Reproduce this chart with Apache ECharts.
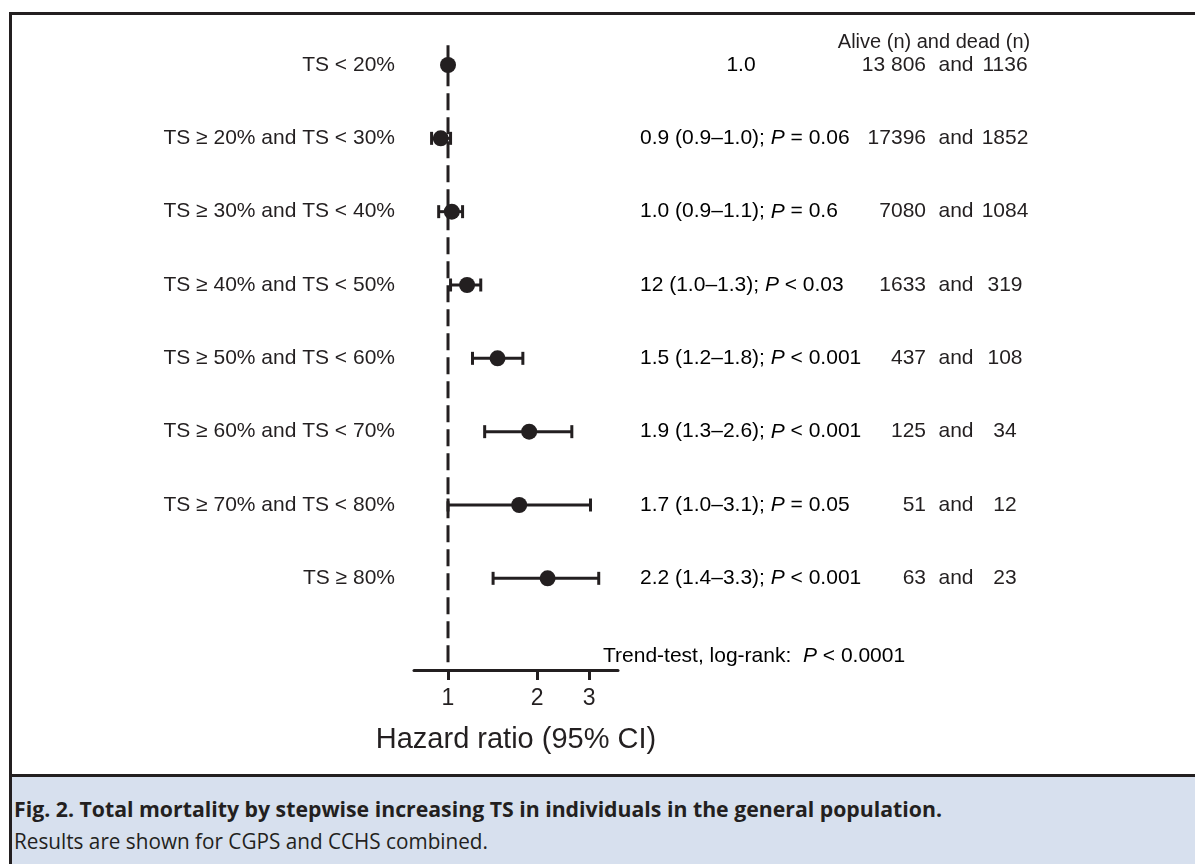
<!DOCTYPE html>
<html>
<head>
<meta charset="utf-8">
<script src="https://cdn.jsdelivr.net/npm/echarts@6/dist/echarts.min.js"></script>
<style>
  html, body { margin: 0; padding: 0; background: #ffffff; }
  #page { position: relative; width: 1195px; height: 864px; overflow: hidden; background: #fff; }
  #frameTop { position: absolute; left: 9px; top: 12px; width: 1186px; height: 3px; background: #231f20; }
  #frameLeft { position: absolute; left: 9px; top: 12px; width: 3px; height: 852px; background: #231f20; }
  #caption { position: absolute; left: 12px; top: 774px; width: 1183px; height: 90px;
             background: #d7e0ee; border-top: 3px solid #231f20; }
  .capline { position: absolute; left: 2px; white-space: nowrap; color: #231f20;
             font-family: "Liberation Sans Narrow", "Open Sans", "Liberation Sans", sans-serif;
             font-size: 22px; line-height: 26px; transform-origin: 0 50%; }
  #cap1 { top: 18px; font-weight: bold; }
  #cap2 { top: 50px; font-weight: normal; }
  #chart { position: absolute; left: 0; top: 0; width: 1195px; height: 864px; }
</style>
</head>
<body>
<div id="page">
  <div id="frameTop"></div>
  <div id="frameLeft"></div>
  <div id="caption">
    <div class="capline" id="cap1"></div>
    <div class="capline" id="cap2"></div>
  </div>
  <div id="chart"></div>
</div>
<script>
// ---------------- data ----------------
const rowLabels = ['TS < 20%', 'TS ≥ 20% and TS < 30%', 'TS ≥ 30% and TS < 40%', 'TS ≥ 40% and TS < 50%',
                   'TS ≥ 50% and TS < 60%', 'TS ≥ 60% and TS < 70%', 'TS ≥ 70% and TS < 80%', 'TS ≥ 80%'];
const hazardRatio = [1.0, 0.945, 1.03, 1.16, 1.47, 1.88, 1.74, 2.17];
const ciLow  = [null, 0.88, 0.93, 1.02, 1.21, 1.33, 1.0, 1.42];
const ciHigh = [null, 1.02, 1.12, 1.29, 1.79, 2.62, 3.03, 3.23];
const estText = ['1.0', '0.9 (0.9–1.0); ', '1.0 (0.9–1.1); ', '12 (1.0–1.3); ', '1.5 (1.2–1.8); ',
                 '1.9 (1.3–2.6); ', '1.7 (1.0–3.1); ', '2.2 (1.4–3.3); '];
const pText = ['', ' = 0.06', ' = 0.6', ' < 0.03', ' < 0.001', ' < 0.001', ' = 0.05', ' < 0.001'];
const aliveN = ['13 806', '17396', '7080', '1633', '437', '125', '51', '63'];
const deadN  = ['1136', '1852', '1084', '319', '108', '34', '12', '23'];
const xTicks = [1, 2, 3];
const countsHeader = 'Alive (n) and dead (n)';
const trendText = ['Trend-test, log-rank:  ', 'P', ' < 0.0001'];
const axisTitle = 'Hazard ratio (95% CI)';
const captionTitle = 'Fig. 2. Total mortality by stepwise increasing TS in individuals in the general population.';
const captionNote = 'Results are shown for CGPS and CCHS combined.';

// ---------------- caption (HTML) ----------------
function fitLine(id, text, targetW) {
  const el = document.getElementById(id);
  el.textContent = text;
  const w = el.getBoundingClientRect().width;
  if (w > 0) el.style.transform = 'scaleX(' + (targetW / w) + ')';
}
fitLine('cap1', captionTitle, 928);
fitLine('cap2', captionNote, 474);

// ---------------- chart ----------------
const INK = '#231f20';
const FONT = '"Liberation Sans", Arial, sans-serif';
const FS = 21;
const lg = v => Math.log10(v);

const chart = echarts.init(document.getElementById('chart'), null, { renderer: 'canvas' });

const pointData = hazardRatio.map((v, i) => [lg(v), i]);
const ciData = [];
hazardRatio.forEach((v, i) => {
  if (ciLow[i] != null) ciData.push([lg(ciLow[i]), lg(ciHigh[i]), i]);
});

const option = {
  animation: false,
  backgroundColor: 'transparent',
  textStyle: { fontFamily: FONT, color: INK },
  grid: { left: 414, right: 577, top: 43, bottom: 194, containLabel: false },
  xAxis: {
    type: 'value',
    min: -0.1149, max: 0.5743,
    axisLine: { show: true, onZero: false, lineStyle: { color: INK, width: 3 } },
    axisTick: { show: true, length: 10, lineStyle: { color: INK, width: 3 },
                customValues: xTicks.map(lg) },
    axisLabel: { show: true, fontSize: 23, color: INK, margin: 17, fontFamily: FONT,
                 customValues: xTicks.map(lg),
                 formatter: v => String(Math.round(Math.pow(10, v))) },
    splitLine: { show: false },
    name: axisTitle, nameLocation: 'middle', nameGap: 55,
    nameTextStyle: { fontSize: 29, color: INK, fontFamily: FONT }
  },
  yAxis: {
    type: 'value', inverse: true, min: -0.3, max: 8.25,
    axisLine: { show: false }, axisTick: { show: false }, splitLine: { show: false },
    axisLabel: { show: true, fontSize: FS, color: INK, margin: 19, fontFamily: FONT,
                 customValues: rowLabels.map((_, i) => i),
                 formatter: v => rowLabels[Math.round(v)] }
  },
  series: [
    {
      type: 'line', data: [[0, -0.27], [0, 8.25]], symbol: 'none', silent: true,
      lineStyle: { color: INK, width: 3, type: [17, 7] }, z: 1
    },
    {
      type: 'custom', data: ciData, z: 2, silent: true,
      renderItem: function (params, api) {
        const lo = api.coord([api.value(0), api.value(2)]);
        const hi = api.coord([api.value(1), api.value(2)]);
        const h = 6.5;
        const st = { stroke: INK, lineWidth: 3 };
        return {
          type: 'group',
          children: [
            { type: 'line', shape: { x1: lo[0], y1: lo[1], x2: hi[0], y2: hi[1] }, style: st },
            { type: 'line', shape: { x1: lo[0], y1: lo[1] - h, x2: lo[0], y2: lo[1] + h }, style: st },
            { type: 'line', shape: { x1: hi[0], y1: hi[1] - h, x2: hi[0], y2: hi[1] + h }, style: st }
          ]
        };
      }
    },
    {
      type: 'scatter', data: pointData, symbol: 'circle', symbolSize: 16, z: 3, silent: true,
      itemStyle: { color: INK, opacity: 1 }
    }
  ]
};
chart.setOption(option);

// Right-side text columns, rows placed with the chart's own y scale
const rich = {
  n: { fontSize: FS, fontFamily: FONT, color: INK },
  i: { fontSize: FS, fontFamily: FONT, color: INK, fontStyle: 'italic' }
};
const font = FS + 'px ' + FONT;
const g = [];
rowLabels.forEach((_, i) => {
  const y = chart.convertToPixel({ yAxisIndex: 0 }, i);
  const est = pText[i] ? ('{n|' + estText[i] + '}{i|P}{n|' + pText[i] + '}') : ('{n|' + estText[i] + '}');
  g.push({ type: 'text', x: i === 0 ? 741 : 640, y: y,
           style: { text: est, rich: rich, verticalAlign: 'middle', align: i === 0 ? 'center' : 'left' } });
  g.push({ type: 'text', x: 926, y: y,
           style: { text: aliveN[i], font: font, fill: INK, verticalAlign: 'middle', align: 'right' } });
  g.push({ type: 'text', x: 956, y: y,
           style: { text: 'and', font: font, fill: INK, verticalAlign: 'middle', align: 'center' } });
  g.push({ type: 'text', x: 1005, y: y,
           style: { text: deadN[i], font: font, fill: INK, verticalAlign: 'middle', align: 'center' } });
});
g.push({ type: 'text', x: 934, y: 42,
         style: { text: countsHeader, font: '20px ' + FONT, fill: INK, verticalAlign: 'middle', align: 'center' } });
g.push({ type: 'text', x: 603, y: 656,
         style: { text: '{n|' + trendText[0] + '}{i|' + trendText[1] + '}{n|' + trendText[2] + '}',
                  rich: rich, verticalAlign: 'middle', align: 'left' } });
chart.setOption({ graphic: { elements: g } });
</script>
</body>
</html>
